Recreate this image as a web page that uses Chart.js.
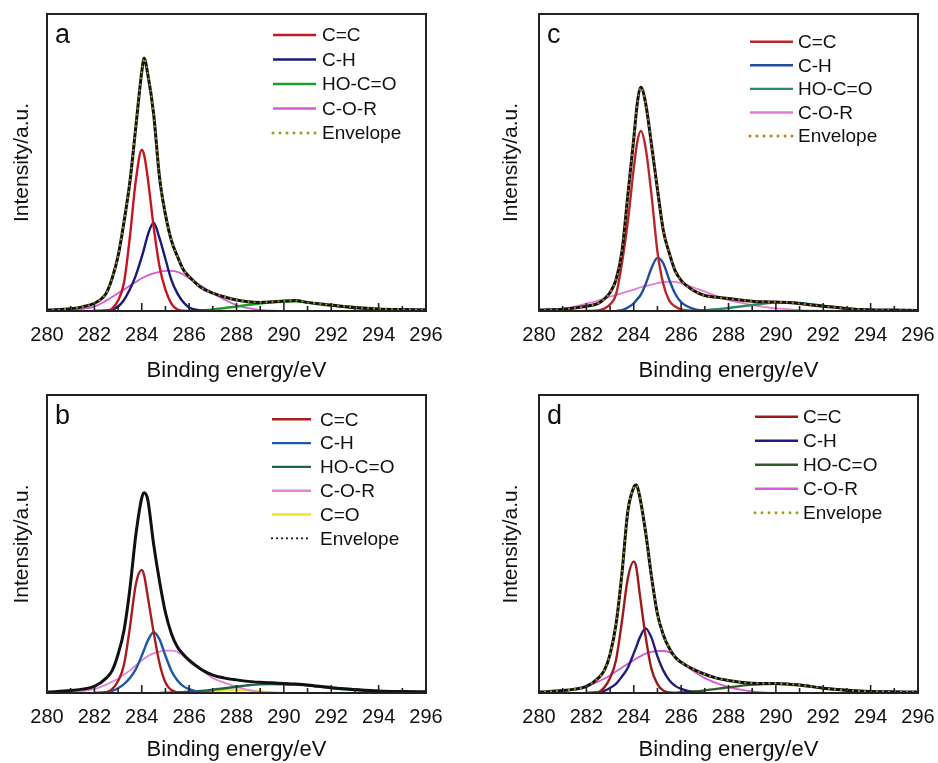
<!DOCTYPE html>
<html>
<head>
<meta charset="utf-8">
<title>C1s XPS fits</title>
<script src="https://cdn.jsdelivr.net/npm/chart.js@4.4.1/dist/chart.umd.min.js"></script>
<style>
  body { margin: 0; background: #fff; width: 938px; height: 763px; overflow: hidden; position: relative; }
  canvas { position: absolute; }
</style>
</head>
<body>
<canvas id="panelA" width="469" height="384" style="left:0;top:0"></canvas>
<canvas id="panelC" width="469" height="384" style="left:469px;top:0"></canvas>
<canvas id="panelB" width="469" height="382" style="left:0;top:381px"></canvas>
<canvas id="panelD" width="469" height="382" style="left:469px;top:381px"></canvas>
<script>
const _ = null;

// binding energy grid (eV) shared by panels a, b, d
const energy = [280, 281, 281.5, 282, 282.5, 282.75, 283, 283.25, 283.5, 283.75, 284, 284.1, 284.25, 284.5, 284.75, 285, 285.25, 285.5, 285.75, 286, 286.5, 287, 287.5, 288, 288.5, 289, 289.5, 290, 290.5, 291, 292, 293, 294, 295, 296];
// panel c peaks a bit higher, so its grid is shifted near the top
const energyC = [280, 281, 281.5, 282, 282.5, 282.75, 283, 283.25, 283.5, 283.75, 284, 284.15, 284.3, 284.5, 284.75, 285, 285.25, 285.5, 285.75, 286, 286.5, 287, 287.5, 288, 288.5, 289, 289.5, 290, 290.5, 291, 292, 293, 294, 295, 296];

const xTicks = [280, 282, 284, 286, 288, 290, 292, 294, 296];

// panel a
const envA = [0.3, 0.8, 1.4, 2.6, 6, 11, 18.5, 30, 43.5, 62, 80.5, 85.1, 80, 66.5, 45, 32.5, 23.8, 18.5, 14, 11.6, 7.9, 6, 4.7, 3.7, 3.1, 2.9, 3.1, 3.4, 3.5, 2.9, 2.0, 1.2, 0.7, 0.5, 0.4];
const ccA = [_, _, _, 0, 0.2, 0.8, 3.5, 9.5, 25, 44, 54.2, 52.5, 45, 28.5, 15, 7.2, 2.5, 0.5, 0.1, 0, _, _, _, _, _, _, _, _, _, _, _, _, _, _, _];
const chA = [_, _, _, 0, 0.1, 0.5, 1.5, 3.7, 7.3, 12, 18.2, 21, 25.5, 29.7, 24.5, 17.5, 10.5, 6, 3, 1.2, 0.2, 0, _, _, _, _, _, _, _, _, _, _, _, _, _];
const hoA = [_, _, _, _, _, _, _, _, _, _, _, _, _, _, _, _, _, _, _, 0, 0.2, 0.5, 1, 1.5, 2.1, 2.5, 2.9, 3.2, 3.3, 2.8, 1.8, 1.0, 0.5, 0.2, 0.1];
const corA = [0, 0.3, 0.7, 1.5, 3.5, 4.7, 6, 7.2, 8.5, 9.8, 11, 11.4, 12, 12.7, 13.2, 13.5, 13.5, 13.2, 12.3, 11, 8.5, 6, 3.8, 2, 1, 0.4, 0.1, 0, _, _, _, _, _, _, _];

// panel c
const envC = [0.3, 0.6, 1.0, 1.6, 2.6, 4, 6.2, 10.5, 20, 39, 58, 69.9, 75.3, 70, 56, 41, 27, 19.5, 13.5, 10.3, 7, 5.2, 4.6, 4.2, 3.7, 3.3, 3.1, 3.0, 2.9, 2.5, 1.6, 0.8, 0.4, 0.3, 0.2];
const ccC = [_, _, _, 0, 0.2, 0.8, 2.2, 5.5, 16, 30, 48, 57, 60.6, 55, 39, 20, 9, 3.5, 1.5, 0.5, 0, _, _, _, _, _, _, _, _, _, _, _, _, _, _];
const chC = [_, _, _, _, _, _, _, 0, 0.3, 1.2, 2.6, 4, 5.5, 9, 14.5, 17.9, 16, 10.5, 5.8, 3, 0.8, 0.1, 0, _, _, _, _, _, _, _, _, _, _, _, _];
const hoC = [_, _, _, _, _, _, _, _, _, _, _, _, _, _, _, _, _, _, _, 0, 0.1, 0.3, 0.6, 1.0, 1.5, 2.0, 2.5, 2.9, 3.0, 2.7, 1.8, 0.9, 0.3, 0.1, 0];
const corC = [0.2, 0.8, 1.5, 2.5, 3.5, 4.2, 4.8, 5.4, 6, 6.6, 7.2, 7.6, 8, 8.4, 8.9, 9.4, 9.7, 9.9, 9.8, 9.4, 8, 6.5, 5, 3.7, 2.8, 2, 1.4, 0.9, 0.6, 0.3, 0.1, 0, _, _, _];

// panel b
const envB = [0.3, 0.8, 1.3, 2.2, 5, 7.5, 13, 21, 35, 53, 65.5, 67.2, 65, 50, 37.5, 27, 20, 15.5, 13, 11, 8, 6, 5, 4.4, 3.9, 3.6, 3.4, 3.2, 3.0, 2.7, 1.8, 1.2, 0.7, 0.5, 0.4];
const ccB = [_, _, _, 0, 0.3, 1.3, 4, 9.5, 22, 36.5, 41.3, 39.5, 32.5, 20.5, 10, 3.5, 1, 0.2, 0, _, _, _, _, _, _, _, _, _, _, _, _, _, _, _, _];
const chB = [_, _, _, 0, 0.2, 0.7, 1.6, 3, 5, 8, 12.5, 14.5, 17.5, 20.4, 18, 12.5, 7.5, 4.3, 2.3, 1.3, 0.3, 0, _, _, _, _, _, _, _, _, _, _, _, _, _];
const hoB = [_, _, _, _, _, _, _, _, _, _, _, _, _, _, 0, 0.1, 0.15, 0.2, 0.3, 0.4, 0.7, 1.1, 1.6, 2.1, 2.6, 2.9, 3.0, 2.9, 2.8, 2.5, 1.7, 1.0, 0.5, 0.3, 0.2];
const corB = [0, 0.3, 0.7, 1.3, 2.8, 3.8, 4.8, 6.2, 7.6, 9.3, 11, 11.5, 12.3, 13.3, 13.9, 14.2, 14.2, 13.8, 12.5, 10.5, 7.8, 5.0, 3.4, 2.1, 1.0, 0.4, 0.1, 0, _, _, _, _, _, _, _];
const coB = [_, _, _, _, _, _, _, _, _, _, _, _, _, _, _, _, _, _, _, 0, 0.2, 0.5, 0.9, 1.1, 0.9, 0.5, 0.2, 0, _, _, _, _, _, _, _];

// panel d
const envD = [0.3, 0.8, 1.3, 2.2, 5, 7.5, 13, 23, 40, 61, 69, 69.8, 66, 54, 39, 26.5, 19.5, 15, 12, 10.3, 8, 6.3, 5.0, 4.2, 3.6, 3.3, 3.2, 3.2, 3.0, 2.7, 1.6, 0.9, 0.5, 0.4, 0.3];
const ccD = [_, _, _, 0, 0.3, 1.8, 5, 11, 24, 38.5, 44.1, 42.5, 33.5, 19, 8, 3, 0.8, 0.2, 0, _, _, _, _, _, _, _, _, _, _, _, _, _, _, _, _];
const chD = [_, _, _, 0, 0.2, 0.7, 1.7, 3.1, 5.5, 8.5, 13.3, 15.3, 18.5, 21.7, 18.5, 12.3, 7.5, 4.3, 2.4, 1.4, 0.3, 0, _, _, _, _, _, _, _, _, _, _, _, _, _];
const hoD = [_, _, _, _, _, _, _, _, _, _, _, _, _, _, _, _, _, 0, 0.05, 0.2, 0.5, 0.9, 1.4, 1.9, 2.4, 2.8, 3.0, 3.1, 3.0, 2.7, 1.6, 0.9, 0.5, 0.3, 0.2];
const corD = [0.1, 0.5, 1.1, 2, 3.8, 4.8, 5.9, 7.2, 8.5, 9.8, 11, 11.5, 12.2, 13.2, 13.8, 14.1, 14.1, 13.7, 12.3, 10.5, 7.5, 5, 3.3, 2, 1.1, 0.5, 0.2, 0, _, _, _, _, _, _, _];

const FONT = 'Arial, "Liberation Sans", sans-serif';
Chart.defaults.font.family = FONT;
Chart.defaults.color = '#111';

// frame, inward ticks, panel letter and legend drawn over the plot
const decorPlugin = {
  id: 'decor',
  afterDraw(chart, args, opts) {
    const { ctx, chartArea: ca } = chart;
    const x = chart.scales.x;
    ctx.save();
    ctx.strokeStyle = '#222';
    ctx.lineWidth = 1.6;
    for (let v = x.min; v <= x.max; v += 1) {
      const px = x.getPixelForValue(v);
      const len = v % 2 === 0 ? 8 : 5;
      ctx.beginPath();
      ctx.moveTo(px, ca.bottom);
      ctx.lineTo(px, ca.bottom - len);
      ctx.stroke();
    }
    ctx.lineWidth = 2;
    ctx.strokeRect(ca.left, ca.top, ca.right - ca.left, ca.bottom - ca.top);

    ctx.fillStyle = '#111';
    ctx.font = '27px ' + FONT;
    ctx.textAlign = 'left';
    ctx.textBaseline = 'alphabetic';
    ctx.fillText(opts.letter, ca.left + 8, ca.top + 29);

    // legend
    const lg = opts.legend;
    ctx.font = '19px ' + FONT;
    ctx.textBaseline = 'middle';
    let row = 0;
    chart.data.datasets.forEach(ds => {
      if (ds.noLegend) return;
      const y = ca.top + lg.top + row * lg.step;
      ctx.strokeStyle = ds.borderColor;
      if (ds.dotted) {
        ctx.lineWidth = lg.dotWidth;
        ctx.lineCap = 'round';
        ctx.setLineDash([0, lg.dotGap]);
      } else {
        ctx.lineWidth = 2.4;
        ctx.lineCap = 'butt';
        ctx.setLineDash([]);
      }
      ctx.beginPath();
      ctx.moveTo(ca.left + lg.x0, y);
      ctx.lineTo(ca.left + lg.x1, y);
      ctx.stroke();
      ctx.setLineDash([]);
      ctx.fillStyle = '#111';
      ctx.fillText(ds.label, ca.left + lg.tx, y + 1);
      row++;
    });
    ctx.restore();
  }
};

function makePanel(id, xs, envelope, comps, cfg) {
  const datasets = comps.map((c, i) => ({
    label: c.label,
    data: xs.map((x, k) => ({ x: x, y: c.values[k] })),
    borderColor: c.color,
    borderWidth: c.width || 2.4,
    pointRadius: 0,
    cubicInterpolationMode: 'monotone',
    order: 3 + i
  }));
  const envPts = xs.map((x, k) => ({ x: x, y: envelope[k] }));
  datasets.push({
    label: 'Envelope', data: envPts, dotted: true,
    borderColor: cfg.dotColor, borderWidth: 2.2, borderDash: [0, 6], borderCapStyle: 'round',
    pointRadius: 0, cubicInterpolationMode: 'monotone', order: 0
  });
  datasets.push({
    label: 'Envelope', data: envPts, noLegend: true,
    borderColor: '#111', borderWidth: 3,
    pointRadius: 0, cubicInterpolationMode: 'monotone', order: 1
  });

  new Chart(document.getElementById(id), {
    type: 'line',
    data: { datasets: datasets },
    options: {
      responsive: false,
      animation: false,
      devicePixelRatio: 1,
      layout: { padding: { left: cfg.padLeft, right: cfg.padRight, top: 14, bottom: 0 } },
      scales: {
        x: {
          type: 'linear', min: 280, max: 296,
          afterBuildTicks: s => { s.ticks = xTicks.map(v => ({ value: v })); },
          ticks: { font: { size: 20 }, color: '#111', padding: 12, maxRotation: 0, autoSkip: false },
          grid: { display: false, drawTicks: false },
          border: { display: false },
          title: { display: true, text: 'Binding energy/eV', font: { size: 22 }, color: '#111', padding: { top: 0, bottom: 0 } },
          afterFit: s => { s.height = cfg.xHeight; s.paddingLeft = 0; s.paddingRight = 0; }
        },
        y: {
          min: 0, max: 100,
          ticks: { display: false },
          grid: { display: false, drawTicks: false },
          border: { display: false },
          title: { display: true, text: 'Intensity/a.u.', font: { size: 21 }, color: '#111', padding: { top: 10, bottom: 0 } },
          afterFit: s => { s.width = cfg.yWidth; }
        }
      },
      plugins: {
        legend: { display: false },
        tooltip: { enabled: false },
        decor: { letter: cfg.letter, legend: cfg.legend }
      }
    },
    plugins: [decorPlugin]
  });
}

makePanel('panelA', energy, envA, [
  { label: 'C=C', values: ccA, color: '#c8141e' },
  { label: 'C-H', values: chA, color: '#1a1a78' },
  { label: 'HO-C=O', values: hoA, color: '#1e9e28' },
  { label: 'C-O-R', values: corA, color: '#d35cd3', width: 1.8 }
], { letter: 'a', dotColor: '#9a9a1c', padLeft: 0, padRight: 43, yWidth: 47, xHeight: 73,
     legend: { x0: 226, x1: 269, tx: 275, top: 21, step: 24.5, dotWidth: 3, dotGap: 7 } });

makePanel('panelC', energyC, envC, [
  { label: 'C=C', values: ccC, color: '#b8282a' },
  { label: 'C-H', values: chC, color: '#1f4f9c' },
  { label: 'HO-C=O', values: hoC, color: '#2a8c64' },
  { label: 'C-O-R', values: corC, color: '#e67ad2', width: 1.8 }
], { letter: 'c', dotColor: '#b8801e', padLeft: 20, padRight: 20, yWidth: 50, xHeight: 73,
     legend: { x0: 211, x1: 254, tx: 259, top: 27.7, step: 23.6, dotWidth: 3, dotGap: 7 } });

makePanel('panelB', energy, envB, [
  { label: 'C=C', values: ccB, color: '#a81c1c' },
  { label: 'C-H', values: chB, color: '#1e56a8' },
  { label: 'HO-C=O', values: hoB, color: '#1e6446' },
  { label: 'C-O-R', values: corB, color: '#e384d8', width: 1.8 },
  { label: 'C=O', values: coB, color: '#f5e12a' }
], { letter: 'b', dotColor: '#111', padLeft: 0, padRight: 43, yWidth: 47, xHeight: 70,
     legend: { x0: 225, x1: 264, tx: 273, top: 24.3, step: 23.8, dotWidth: 2.2, dotGap: 5 } });

makePanel('panelD', energy, envD, [
  { label: 'C=C', values: ccD, color: '#9e1a1a' },
  { label: 'C-H', values: chD, color: '#1e1e7a' },
  { label: 'HO-C=O', values: hoD, color: '#2f5a2a' },
  { label: 'C-O-R', values: corD, color: '#d65ad6', width: 1.8 }
], { letter: 'd', dotColor: '#a0a01c', padLeft: 20, padRight: 20, yWidth: 50, xHeight: 70,
     legend: { x0: 216, x1: 259, tx: 264, top: 21.7, step: 24, dotWidth: 3, dotGap: 7 } });
</script>
</body>
</html>
